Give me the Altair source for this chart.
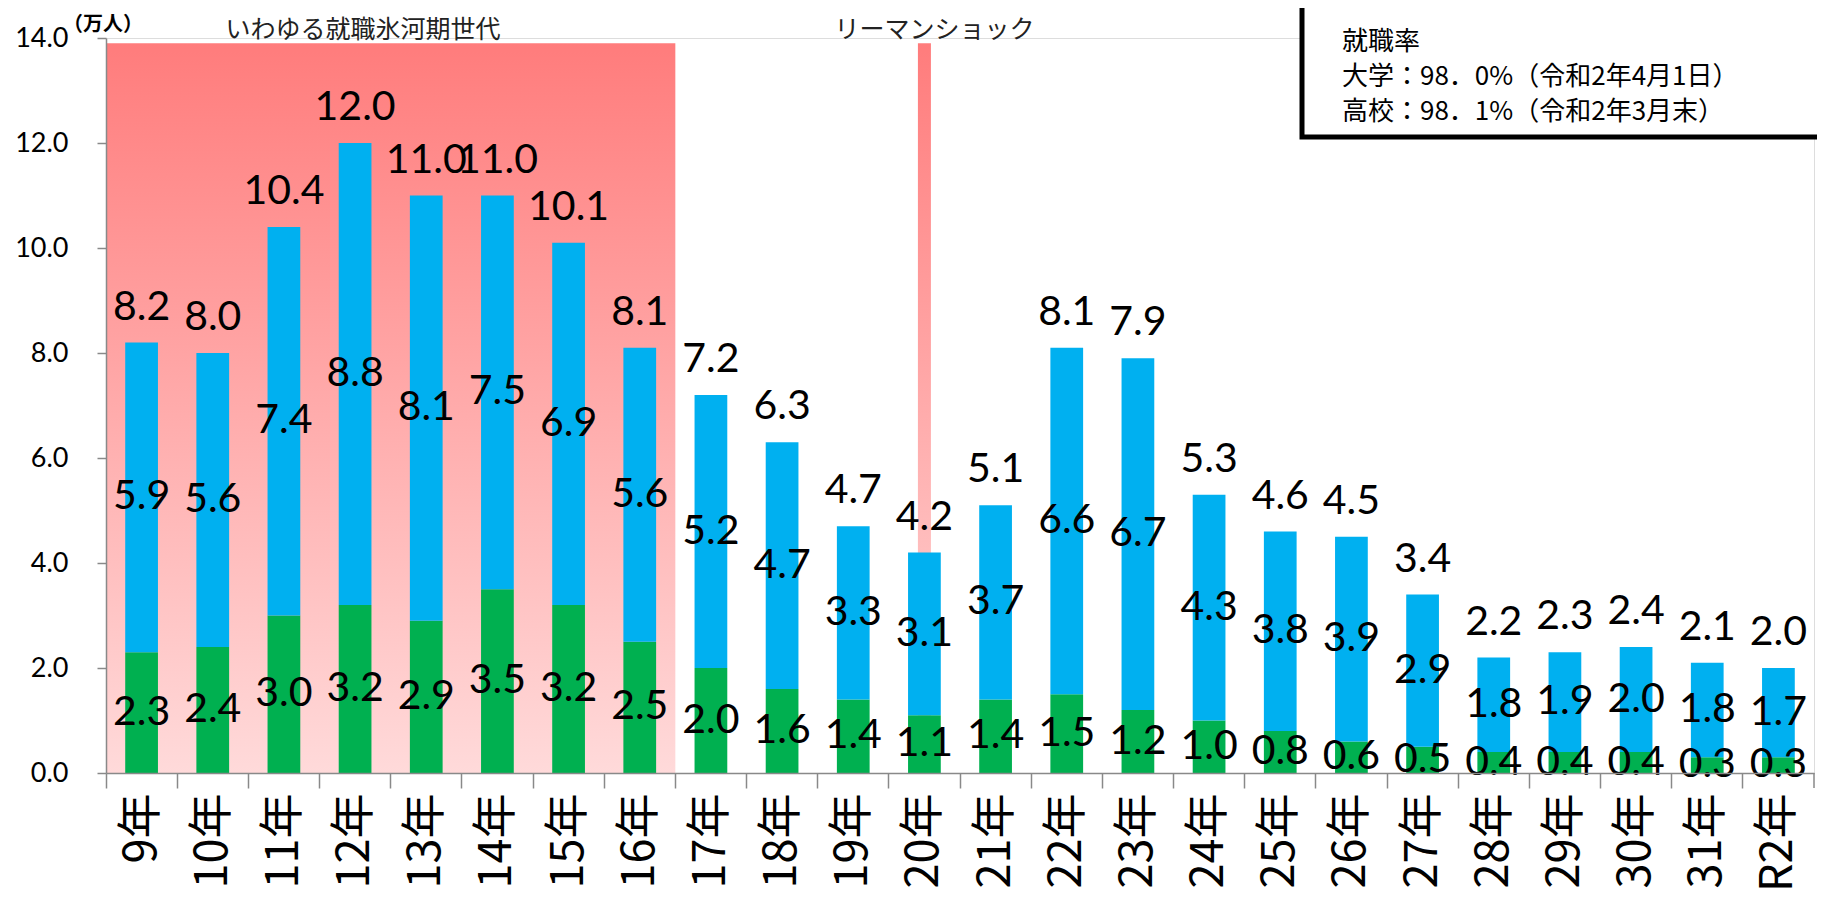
import altair as alt
import pandas as pd

categories = ["9年", "10年", "11年", "12年", "13年", "14年", "15年", "16年", "17年", "18年",
              "19年", "20年", "21年", "22年", "23年", "24年", "25年", "26年", "27年", "28年",
              "29年", "30年", "31年", "R2年"]
green_vals = [2.3, 2.4, 3.0, 3.2, 2.9, 3.5, 3.2, 2.5, 2.0, 1.6, 1.4, 1.1, 1.4, 1.5, 1.2, 1.0,
              0.8, 0.6, 0.5, 0.4, 0.4, 0.4, 0.3, 0.3]
blue_vals = [5.9, 5.6, 7.4, 8.8, 8.1, 7.5, 6.9, 5.6, 5.2, 4.7, 3.3, 3.1, 3.7, 6.6, 6.7, 4.3,
             3.8, 3.9, 2.9, 1.8, 1.9, 2.0, 1.8, 1.7]
total_vals = [8.2, 8.0, 10.4, 12.0, 11.0, 11.0, 10.1, 8.1, 7.2, 6.3, 4.7, 4.2, 5.1, 8.1, 7.9, 5.3,
              4.6, 4.5, 3.4, 2.2, 2.3, 2.4, 2.1, 2.0]

ice_age_start = "9年"
ice_age_end = "16年"
lehman_cat = "20年"
band_top = 13.9
y_ticks = [0, 2, 4, 6, 8, 10, 12, 14]

info_lines = ["就職率", "大学：98．0%（令和2年4月1日）", "高校：98．1%（令和2年3月末）"]

W, H = 1708, 735
BLUE = "#00B0F0"
GREEN = "#00B050"
NUM_FONT = "Lato"
JP_FONT = "Noto Sans CJK JP"

df = pd.DataFrame({
    "cat": categories,
    "green": green_vals,
    "blue": blue_vals,
    "total": total_vals,
})
df["top"] = df["green"] + df["blue"]
df["green_mid"] = df["green"] / 2
df["blue_mid"] = (df["green"] + df["top"]) / 2

xscale = alt.Scale(domain=categories, paddingInner=0, paddingOuter=0)
yscale = alt.Scale(domain=[0, 14], nice=False, zero=True)

xenc = alt.X("cat:N", scale=xscale, sort=categories,
             axis=alt.Axis(title=None, labelAngle=-90, labelFont=JP_FONT, labelFontSize=45,
                           labelColor="black", tickSize=15, labelPadding=5, bandPosition=0,
                           domainColor="#898989", tickColor="#898989", domainWidth=1.5,
                           tickWidth=1.5, grid=False, zindex=1, labelAlign="right",
                           labelBaseline="middle"))
yenc = alt.Y("green:Q", scale=yscale,
             axis=alt.Axis(title=None, values=y_ticks, format=".1f", labelFont=NUM_FONT,
                           labelFontSize=27, labelColor="black", tickSize=9, labelPadding=29,
                           domainColor="#898989", tickColor="#898989", domainWidth=1.5,
                           tickWidth=1.5, grid=False, zindex=1))

pink_grad = alt.Gradient(
    gradient="linear",
    stops=[alt.GradientStop(color="#FF7C7C", offset=0),
           alt.GradientStop(color="#FFDADA", offset=1)],
    x1=0, x2=0, y1=0, y2=1,
)

one = alt.Data(values=[{"a": 1}])

ice_box = alt.Chart(one).mark_rect(fill=pink_grad).encode(
    x=alt.XDatum(ice_age_start, type="nominal", bandPosition=0),
    x2=alt.X2Datum(ice_age_end, bandPosition=1),
    y=alt.YDatum(band_top, type="quantitative"),
    y2=alt.Y2Datum(0),
)

lehman_bar = alt.Chart(one).mark_bar(fill=pink_grad, width=13).encode(
    x=alt.XDatum(lehman_cat, type="nominal"),
    y=alt.YDatum(band_top, type="quantitative"),
    y2=alt.Y2Datum(0),
)

green_bars = alt.Chart(df).mark_bar(color=GREEN, width=alt.RelativeBandSize(0.46)).encode(
    x=xenc,
    y=yenc,
)

blue_bars = alt.Chart(df).mark_bar(color=BLUE, width=alt.RelativeBandSize(0.46)).encode(
    x=alt.X("cat:N", sort=categories),
    y=alt.Y("green:Q"),
    y2=alt.Y2("top:Q"),
)

total_labels = alt.Chart(df).mark_text(font=NUM_FONT, fontSize=41, color="black",
                                       baseline="alphabetic", dy=-23).encode(
    x=alt.X("cat:N", sort=categories),
    y=alt.Y("top:Q"),
    text=alt.Text("total:Q", format=".1f"),
)

blue_labels = alt.Chart(df).mark_text(font=NUM_FONT, fontSize=41, color="black",
                                      baseline="middle").encode(
    x=alt.X("cat:N", sort=categories),
    y=alt.Y("blue_mid:Q"),
    text=alt.Text("blue:Q", format=".1f"),
)

green_labels = alt.Chart(df).mark_text(font=NUM_FONT, fontSize=41, color="black",
                                       baseline="middle").encode(
    x=alt.X("cat:N", sort=categories),
    y=alt.Y("green_mid:Q"),
    text=alt.Text("green:Q", format=".1f"),
)

end_tick = alt.Chart(one).mark_rule(color="#898989", strokeWidth=1.5).encode(
    x=alt.value(W), y=alt.value(H), y2=alt.value(H + 15),
)

unit_text = alt.Chart(one).mark_text(text="（万人）", font=JP_FONT, fontSize=20,
                                     fontWeight="bold", color="black",
                                     align="center", baseline="middle").encode(
    x=alt.value(-3), y=alt.value(-13),
)

ice_title = alt.Chart(one).mark_text(text="いわゆる就職氷河期世代", font=JP_FONT, fontSize=25,
                                     color="#222222", align="center", baseline="middle").encode(
    x=alt.value(257), y=alt.value(-8),
)

lehman_title = alt.Chart(one).mark_text(text="リーマンショック", font=JP_FONT, fontSize=25,
                                        color="#222222", align="center", baseline="middle",
                                        dx=10).encode(
    x=alt.XDatum(lehman_cat, type="nominal"), y=alt.value(-8),
)

info_box = alt.Chart(one).mark_rect(fill="white", stroke="black", strokeWidth=5).encode(
    x=alt.value(1196), x2=alt.value(1740), y=alt.value(-33), y2=alt.value(99),
)

info_layers = []
for i, line in enumerate(info_lines):
    info_layers.append(
        alt.Chart(one).mark_text(text=line, font=JP_FONT, fontSize=26, color="black",
                                 align="left", baseline="middle").encode(
            x=alt.value(1236), y=alt.value(4 + 35 * i),
        )
    )

chart = alt.layer(
    ice_box, lehman_bar, green_bars, blue_bars, green_labels, blue_labels, total_labels,
    end_tick, unit_text, ice_title, lehman_title, info_box, *info_layers,
).properties(
    width=W, height=H,
    autosize=alt.AutoSizeParams(type="none"),
    padding={"left": 98, "top": 30, "right": 3, "bottom": 121},
).configure_view(stroke=None).configure(background="white")

chart.save("out.html", embed_options={"renderer": "svg", "actions": False})
